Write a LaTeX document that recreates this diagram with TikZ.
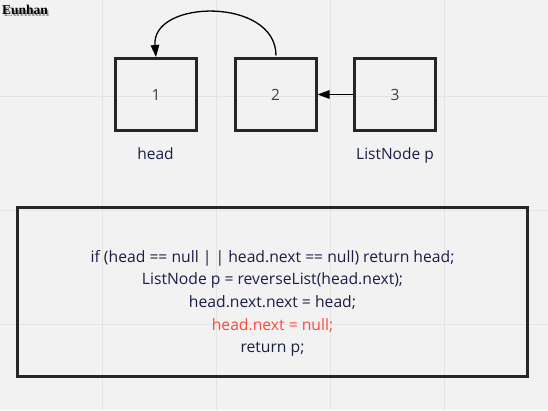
\documentclass[tikz,border=0pt]{standalone}
\usepackage{fontspec}
\setmainfont{Open Sans}
\newfontfamily\sigfont{Liberation Serif}
\usetikzlibrary{arrows.meta}
\definecolor{bg}{HTML}{F2F2F2}
\definecolor{gridc}{HTML}{E4E4E4}
\definecolor{boxc}{HTML}{262626}
\definecolor{txt}{HTML}{1A1F45}
\definecolor{numc}{HTML}{404040}
\definecolor{redc}{HTML}{FF4A3A}
\definecolor{shadowc}{HTML}{9A9A9A}
\tikzset{
  listbox/.style={draw=boxc, line width=3pt, minimum width=81pt, minimum height=72pt, inner sep=0pt, font=\fontsize{15.5}{18}\selectfont, text=numc},
  lbl/.style={anchor=base, inner sep=0pt, font=\fontsize{15.5}{18}\selectfont, text=txt},
  codeline/.style={anchor=base, inner sep=0pt, font=\fontsize{15.7}{18}\selectfont, text=txt},
  link/.style={line width=1.3pt, black, -{Triangle[length=12pt,width=8.5pt]}},
  sig/.style={anchor=base west, inner sep=0pt, font=\sigfont\bfseries\fontsize{13.5}{14}\selectfont},
}
\begin{document}
\begin{tikzpicture}[x=1pt,y=-1pt]
\fill[bg] (0,0) rectangle (548,410);
\useasboundingbox (0,0) rectangle (548,410);
\foreach \gx in {102,216,330,444} \draw[gridc, line width=1pt] (\gx,0) -- (\gx,410);
\foreach \gy in {96,210,324} \draw[gridc, line width=1pt] (0,\gy) -- (548,\gy);
% signature (with its gray drop shadow in the same node)
\node[sig, text=black] (sig) at (2,14.5) {\rlap{\kern1.5pt\raisebox{-1.5pt}{\color{shadowc}Eunhan}}Eunhan};
% list nodes
\node[listbox] (n1) at (156,94.5) {1};
\node[listbox] (n2) at (275.5,94.5) {2};
\node[listbox] (n3) at (395,94.5) {3};
\node[lbl] (lhead) at (155.5,159) {head};
\node[lbl] (lp) at (395,159) {ListNode p};
% connectors
\draw[link] (n2.north) ++(0.5,-1.5) coordinate (c2) (c2) .. controls (276,-3) and (151,-1) .. (n1.north);
\draw[link] (n3.west) -- (n2.east);
% code box
\node[draw=boxc, line width=3pt, minimum width=510pt, minimum height=169pt, inner sep=0pt] (code) at (272.5,292) {};
\node[codeline] (l1) at (272.5,262) {if (head == null | | head.next == null) return head;};
\node[codeline] (l2) at (272.5,284.7) {ListNode p = reverseList(head.next);};
\node[codeline] (l3) at (272.5,307.3) {head.next.next = head;};
\node[codeline, text=redc] (l4) at (272.5,330) {head.next = null;};
\node[codeline] (l5) at (272.5,352.7) {return p;};
\end{tikzpicture}
\end{document}
